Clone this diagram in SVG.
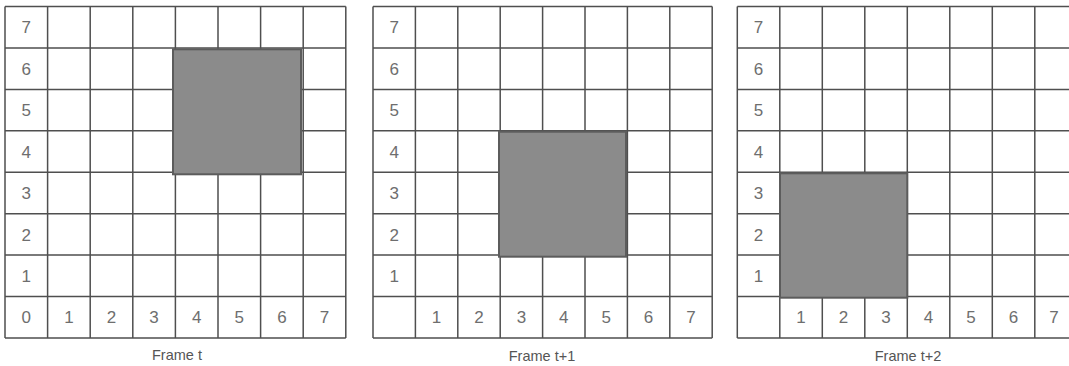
<svg xmlns="http://www.w3.org/2000/svg" width="1069" height="366" viewBox="0 0 1069 366">
<style>
.grid{fill:none;stroke:#4f4f4f;stroke-width:1.5}
.box{fill:#8b8b8b;stroke:#5c5c5c;stroke-width:2}
.num{font-family:"Liberation Sans",Arial,sans-serif;font-size:17px;fill:#6e6e6e;text-anchor:middle}
.cap{font-family:"Liberation Sans",Arial,sans-serif;font-size:14.5px;fill:#555;text-anchor:middle}
</style>
<rect width="1069" height="366" fill="#ffffff"/>
<g id="frame-t">
<path class="grid" d="M5,6.5V338.1M47.6,6.5V338.1M90.2,6.5V338.1M132.8,6.5V338.1M175.4,6.5V338.1M218,6.5V338.1M260.6,6.5V338.1M303.2,6.5V338.1M345.8,6.5V338.1M5,6.5H345.8M5,47.9H345.8M5,89.4H345.8M5,130.8H345.8M5,172.3H345.8M5,213.7H345.8M5,255.1H345.8M5,296.6H345.8M5,338.1H345.8"/>
<rect class="box" x="173" y="49.3" width="128" height="125"/>
<g class="num">
<text x="26.3" y="33.3">7</text><text x="26.3" y="74.7">6</text><text x="26.3" y="116.2">5</text><text x="26.3" y="157.6">4</text><text x="26.3" y="199.1">3</text><text x="26.3" y="240.5">2</text><text x="26.3" y="281.9">1</text><text x="26.3" y="323.4">0</text>
<text x="68.9" y="323.4">1</text><text x="111.5" y="323.4">2</text><text x="154.1" y="323.4">3</text><text x="196.7" y="323.4">4</text><text x="239.3" y="323.4">5</text><text x="281.9" y="323.4">6</text><text x="324.5" y="323.4">7</text>
</g>
<text class="cap" x="177" y="360">Frame t</text>
</g>
<g id="frame-t1">
<path class="grid" d="M373,6.5V338.1M415.4,6.5V338.1M457.8,6.5V338.1M500.2,6.5V338.1M542.6,6.5V338.1M585,6.5V338.1M627.4,6.5V338.1M669.8,6.5V338.1M712.2,6.5V338.1M373,6.5H712.2M373,47.9H712.2M373,89.4H712.2M373,130.8H712.2M373,172.3H712.2M373,213.7H712.2M373,255.1H712.2M373,296.6H712.2M373,338.1H712.2"/>
<rect class="box" x="499" y="131.7" width="127" height="125"/>
<g class="num">
<text x="394.2" y="33.3">7</text><text x="394.2" y="74.7">6</text><text x="394.2" y="116.2">5</text><text x="394.2" y="157.6">4</text><text x="394.2" y="199.1">3</text><text x="394.2" y="240.5">2</text><text x="394.2" y="281.9">1</text>
<text x="436.6" y="323.4">1</text><text x="479" y="323.4">2</text><text x="521.4" y="323.4">3</text><text x="563.8" y="323.4">4</text><text x="606.2" y="323.4">5</text><text x="648.6" y="323.4">6</text><text x="691" y="323.4">7</text>
</g>
<text class="cap" x="542" y="360.5">Frame t+1</text>
</g>
<g id="frame-t2">
<path class="grid" d="M737.3,6.5V338.1M779.8,6.5V338.1M822.3,6.5V338.1M864.8,6.5V338.1M907.3,6.5V338.1M949.8,6.5V338.1M992.3,6.5V338.1M1034.8,6.5V338.1M1077.3,6.5V338.1M737.3,6.5H1077.3M737.3,47.9H1077.3M737.3,89.4H1077.3M737.3,130.8H1077.3M737.3,172.3H1077.3M737.3,213.7H1077.3M737.3,255.1H1077.3M737.3,296.6H1077.3M737.3,338.1H1077.3"/>
<rect class="box" x="780" y="173.3" width="127.3" height="124.4"/>
<g class="num">
<text x="758.5" y="33.3">7</text><text x="758.5" y="74.7">6</text><text x="758.5" y="116.2">5</text><text x="758.5" y="157.6">4</text><text x="758.5" y="199.1">3</text><text x="758.5" y="240.5">2</text><text x="758.5" y="281.9">1</text>
<text x="801" y="323.4">1</text><text x="843.5" y="323.4">2</text><text x="886" y="323.4">3</text><text x="928.5" y="323.4">4</text><text x="971" y="323.4">5</text><text x="1013.5" y="323.4">6</text><text x="1054" y="323.4">7</text>
</g>
<text class="cap" x="908" y="360.5">Frame t+2</text>
</g>
</svg>
